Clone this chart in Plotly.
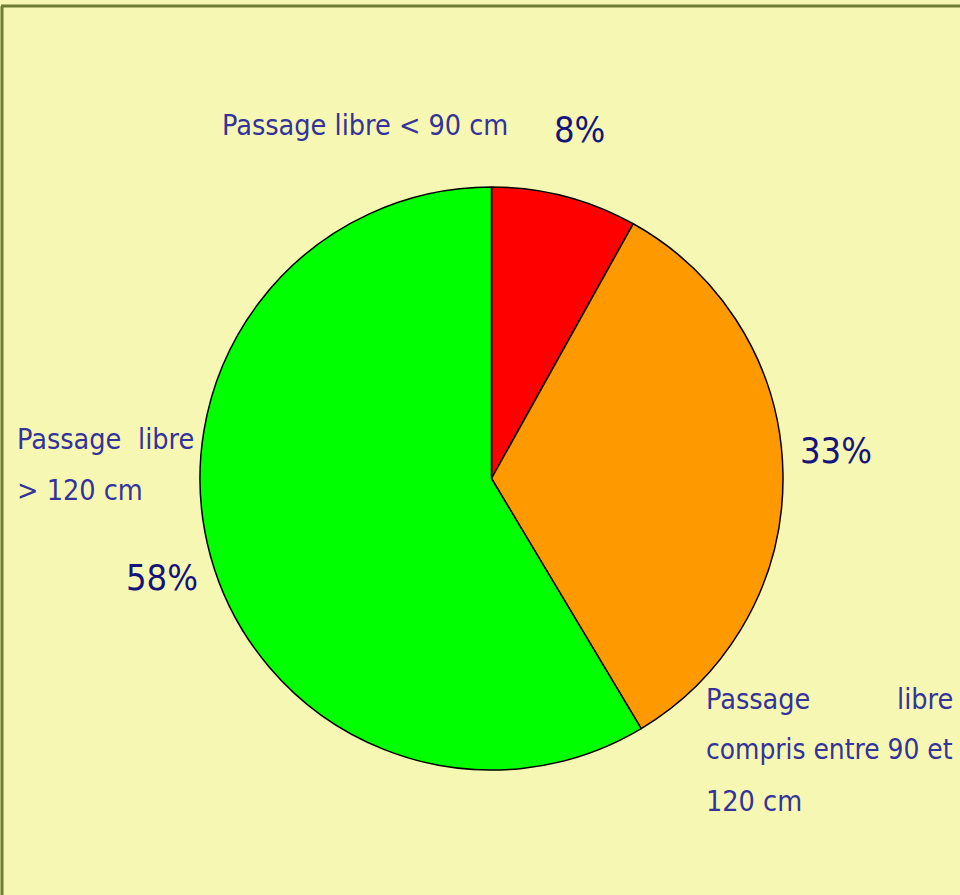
import plotly.graph_objects as go

W, H = 960, 895

labels = ["Passage libre < 90 cm", "Passage libre compris entre 90 et 120 cm", "Passage libre > 120 cm"]
values = [8, 33, 58]
colors = ["#ff0000", "#ff9900", "#00ff00"]
pct_texts = ["8%", "33%", "58%"]

# Label text pieces, as laid out (justified lines split into left/right parts)
label_lines = [
    # (text, x_px, y_px, xanchor, size)
    ("Passage libre &lt; 90 cm", 220, 126, "left", 28.5),
    ("Passage", 15, 439, "left", 28.5),
    ("libre", 196, 439, "right", 28.5),
    ("&gt; 120 cm", 15, 490, "left", 28.5),
    ("Passage", 704, 699, "left", 28.5),
    ("libre", 955, 699, "right", 28.5),
    ("compris entre 90 et", 704, 749, "left", 27.8),
    ("120 cm", 704, 801, "left", 28.5),
]
pct_pos = [(579, 129), (836, 451), (162, 577)]

def px(x):
    return x / W

def py(y):
    return 1 - y / H

fig = go.Figure()
fig.add_trace(go.Pie(
    labels=labels,
    values=values,
    sort=False,
    direction="clockwise",
    rotation=0,
    marker=dict(colors=colors, line=dict(color="black", width=1.5)),
    textinfo="none",
    hoverinfo="label+percent",
    showlegend=False,
    domain=dict(x=[px(200), px(783)], y=[py(770), py(187)]),
))

FONT = "DejaVu Sans Condensed"
LBL_COLOR = "#333399"
PCT_COLOR = "#14147a"

ann = []
for t, x, y, xa, s in label_lines:
    ann.append(dict(text=t, x=px(x), y=py(y), xref="paper", yref="paper",
                    xanchor=xa, yanchor="middle", showarrow=False,
                    font=dict(family=FONT, size=s, color=LBL_COLOR)))
for t, (x, y) in zip(pct_texts, pct_pos):
    ann.append(dict(text=t, x=px(x), y=py(y), xref="paper", yref="paper",
                    xanchor="center", yanchor="middle", showarrow=False,
                    font=dict(family=FONT, size=36, color=PCT_COLOR)))

shapes = [
    dict(type="line", xref="paper", yref="paper", x0=px(2), x1=px(2), y0=0, y1=py(6),
         line=dict(color="#6e7d33", width=3)),
    dict(type="line", xref="paper", yref="paper", x0=px(1), x1=1, y0=py(6), y1=py(6),
         line=dict(color="#6e7d33", width=3)),
]

fig.update_layout(
    width=W, height=H,
    margin=dict(l=0, r=0, t=0, b=0),
    paper_bgcolor="#f7f7b4",
    plot_bgcolor="#f7f7b4",
    annotations=ann,
    shapes=shapes,
)

fig.write_html(
    "out.html",
    config={"displayModeBar": False},
    post_script="document.body.style.margin='0';document.body.style.background='#f7f7b4';",
)
